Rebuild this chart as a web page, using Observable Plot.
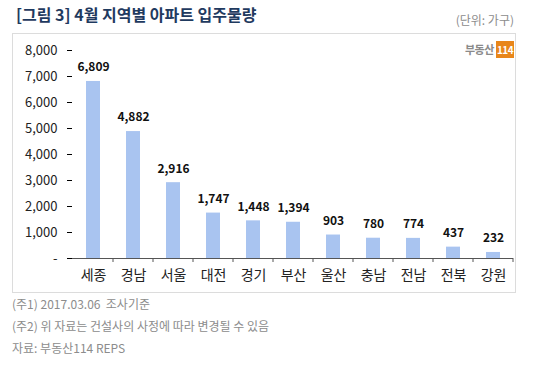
<!DOCTYPE html>
<html><head><meta charset="utf-8">
<script src="https://cdn.jsdelivr.net/npm/d3@7"></script>
<script src="https://cdn.jsdelivr.net/npm/@observablehq/plot@0.6"></script>
<style>
body{margin:0;background:#fff;font-family:"Noto Sans CJK KR","Noto Sans",sans-serif;}
#wrap{position:relative;width:540px;height:365px;overflow:hidden;}
.t{position:absolute;white-space:nowrap;}
#frame{position:absolute;left:12px;top:33px;width:502px;height:258px;border:1px solid #dcdcdc;}
</style></head>
<body><div id="wrap">
<div class="t" style="left:16px;top:2px;font-size:16px;font-weight:bold;color:#1f3a5f;">[그림 3] 4월 지역별 아파트 입주물량</div>
<div class="t" style="right:26px;top:11px;font-size:12px;color:#8c8c8c;">(단위: 가구)</div>
<div id="frame"></div>
<div class="t" style="left:465px;top:41px;font-size:11px;font-weight:bold;color:#8a8a8a;letter-spacing:-0.5px;">부동산<span style="background:#e8861a;color:#fff;padding:1px 1px;margin-left:2px;font-size:10px;">114</span></div>
<div id="chart" style="position:absolute;left:0;top:33px;"></div>
<div class="t" style="left:12px;top:295px;font-size:12px;color:#8c8c8c;">(주1) 2017.03.06&nbsp; 조사기준</div>
<div class="t" style="left:12px;top:317px;font-size:12px;color:#8c8c8c;">(주2) 위 자료는 건설사의 사정에 따라 변경될 수 있음</div>
<div class="t" style="left:12px;top:339px;font-size:12px;color:#8c8c8c;">자료: 부동산114 REPS</div>
</div>
<script>
const regions = ["세종","경남","서울","대전","경기","부산","울산","충남","전남","전북","강원"];
const units = [6809,4882,2916,1747,1448,1394,903,780,774,437,232];
const yTicks = [0,1000,2000,3000,4000,5000,6000,7000,8000];
const data = regions.map((r,i)=>({region:r, value:units[i]}));
const fmt = d3.format(",");
const chart = Plot.plot({
  width:540, height:260,
  marginTop:17, marginBottom:35, marginLeft:72, marginRight:27,
  style:{fontFamily:'"Noto Sans CJK KR","Noto Sans",sans-serif', background:"transparent"},
  x:{domain:regions, paddingInner:0.65, paddingOuter:0.325, label:null},
  y:{domain:[0,8000], label:null},
  marks:[
    Plot.barY(data,{x:"region", y:"value", fill:"#a9c4f0"}),
    Plot.text(data,{x:"region", y:"value", text:d=>fmt(d.value), dy:-14, fontSize:12, fontWeight:"bold", fill:"#111"}),
    Plot.axisY({ticks:yTicks, tickSize:5, tickFormat:d=>d===0?"-":fmt(d), fontSize:13, fill:"#222", tickPadding:10, label:null}),
    Plot.ruleX([0],{stroke:"#555"}),
    Plot.ruleY([0],{stroke:"#555"}),
    Plot.axisX({tickSize:0, fontSize:14, fill:"#222", tickPadding:12, label:null})
  ]
});
document.getElementById("chart").appendChild(chart);
// band-boundary ticks on the x axis
const xs = chart.scale("x"), ys = chart.scale("y");
const y0 = ys.apply(0);
const svg = d3.select(chart);
const bounds = regions.map(r=>xs.apply(r)+xs.bandwidth/2+xs.step/2);
svg.append("g").selectAll("line").data(bounds).join("line")
  .attr("x1",d=>d).attr("x2",d=>d).attr("y1",y0).attr("y2",y0+4)
  .attr("stroke","#555");
</script>
</body></html>
